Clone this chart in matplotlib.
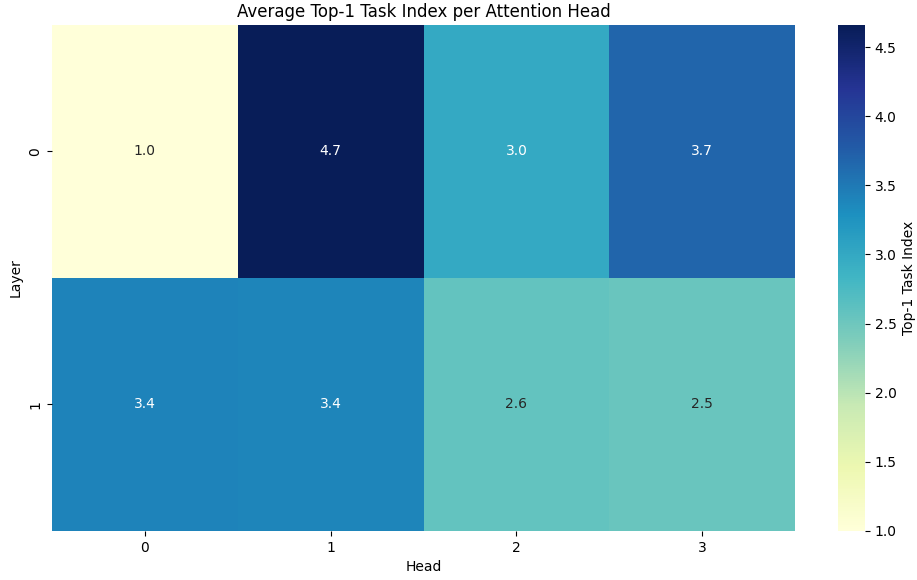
import matplotlib
matplotlib.use("Agg")
import matplotlib.pyplot as plt
import seaborn as sns
import numpy as np

heads = ["0", "1", "2", "3"]
layers = ["0", "1"]
layer0_values = [1.0, 4.66, 3.0, 3.68]
layer1_values = [3.41, 3.40, 2.58, 2.53]

data = np.array([layer0_values, layer1_values])

fig = plt.figure(figsize=(9.17, 5.8), dpi=100)
ax = fig.add_axes([0.0567, 0.0845, 0.8103, 0.8724])
cax = fig.add_axes([0.9139, 0.0845, 0.0294, 0.8724])
sns.heatmap(
    data,
    annot=True,
    fmt=".1f",
    cmap="YlGnBu",
    xticklabels=heads,
    yticklabels=layers,
    cbar_ax=cax,
    cbar_kws={"label": "Top-1 Task Index"},
    ax=ax,
)
ax.set_title("Average Top-1 Task Index per Attention Head")
ax.set_xlabel("Head")
ax.set_ylabel("Layer")
fig.savefig("out.png", dpi=100)
